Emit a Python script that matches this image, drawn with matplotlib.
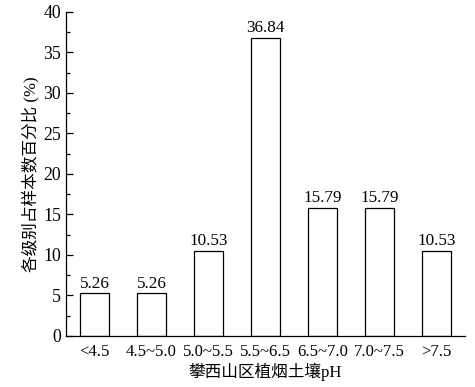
import numpy as np
import matplotlib.pyplot as plt
from matplotlib.ticker import MultipleLocator

plt.rcParams['font.family'] = ['Liberation Serif', 'Noto Sans CJK SC']

# pH 分级及样本占比
categories = ['<4.5', '4.5~5.0', '5.0~5.5', '5.5~6.5', '6.5~7.0', '7.0~7.5', '>7.5']
percent = [5.26, 5.26, 10.53, 36.84, 15.79, 15.79, 10.53]

fig = plt.figure(figsize=(4.75, 3.87), dpi=100)
ax = fig.add_axes([0.139, 0.132, 0.84, 0.837])

x = np.arange(len(categories))
bars = ax.bar(x, percent, width=0.5, color='white', edgecolor='black', linewidth=0.9)
for xi, v in zip(x, percent):
    ax.text(xi, v + 0.2, '%.2f' % v, ha='center', va='bottom', fontsize=12.3)

ax.set_xlim(-0.5, 6.5)
ax.set_ylim(0, 40)
ax.set_xticks(x)
ax.set_xticklabels(categories, fontsize=12)
ax.yaxis.set_major_locator(MultipleLocator(5))
ax.yaxis.set_minor_locator(MultipleLocator(2.5))
ax.tick_params(axis='y', direction='in', length=5, width=0.9, labelsize=12.8)
ax.tick_params(axis='y', which='minor', direction='in', length=3, width=0.9)
ax.tick_params(axis='x', length=0, pad=6)
ax.spines['top'].set_visible(False)
ax.spines['right'].set_visible(False)
ax.spines['left'].set_linewidth(0.9)
ax.spines['bottom'].set_linewidth(0.9)

ax.set_xlabel('攀西山区植烟土壤pH', fontsize=12, labelpad=2)
ax.set_ylabel('各级别占样本数百分比 (%)', fontsize=12, labelpad=3)

fig.savefig('out.png', dpi=100)
